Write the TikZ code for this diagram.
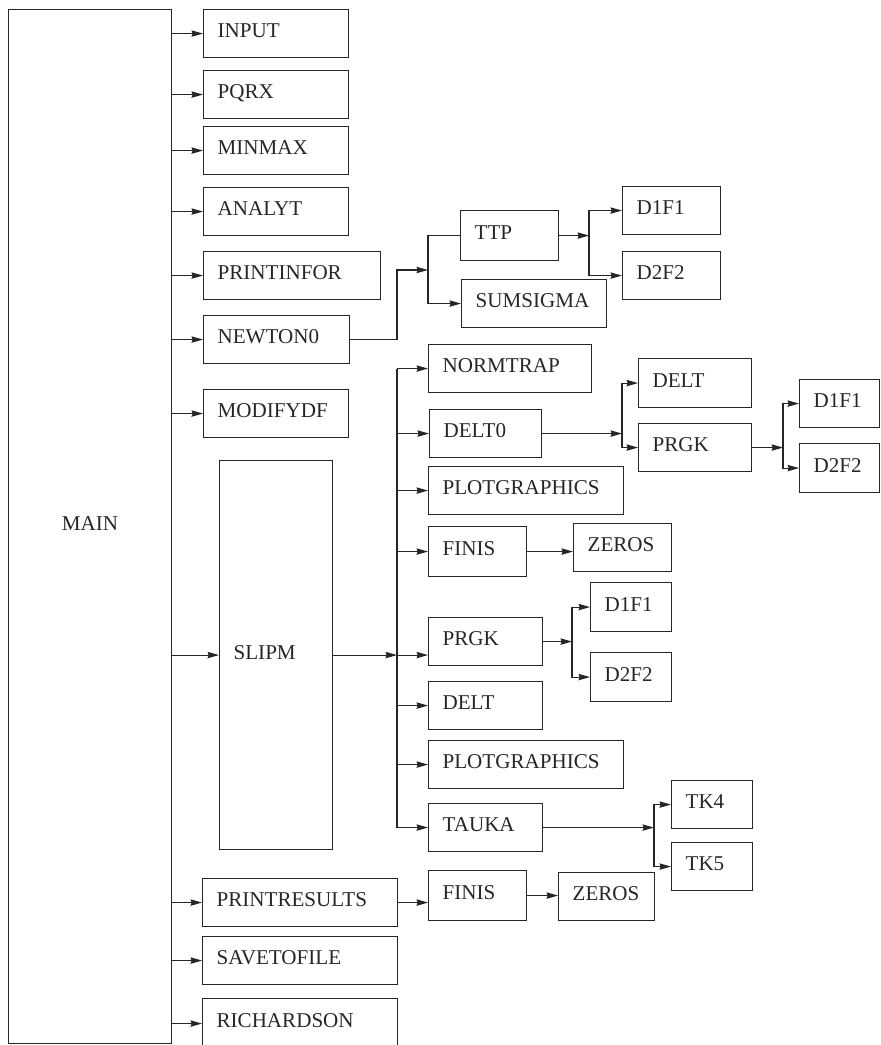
\documentclass[tikz,border=0pt]{standalone}
\usepackage{fontspec}
\setmainfont{Liberation Serif}
\usetikzlibrary{arrows.meta}
\def\px{0.02cm}
\tikzset{
  box/.style={draw, anchor=north west, align=left, inner xsep=8pt, inner ysep=0pt,
    text width=#1*\px-16pt, minimum height=48*\px, text height=8pt, text depth=3.4pt},
  arr/.style={-{Stealth[length=6.5pt,width=3.6pt,inset=0.6pt]}}
}

\begin{document}
\begin{tikzpicture}[x=\px, y=-\px, line width=0.65pt, color=black!85, font=\fontsize{12}{14}\selectfont]
\useasboundingbox (0,0) rectangle (880,1045);
\node[draw, anchor=north west, minimum width=163*\px, minimum height=1034*\px, text height=8pt, text depth=3pt] (main) at (8,9) {MAIN};
\node[box=145] (input) at (203,9) {INPUT};
\node[box=145] (pqrx) at (203,70) {PQRX};
\node[box=145] (minmax) at (203,126) {MINMAX};
\node[box=145] (analyt) at (203,187) {ANALYT};
\node[box=177] (printinfor) at (203,251) {PRINTINFOR};
\node[box=146] (newton) at (203,315) {NEWTON0};
\node[box=145] (modifydf) at (203,389) {MODIFYDF};
\node[box=113, minimum height=389*\px] (slipm) at (219,460) {SLIPM};
\node[box=195] (printres) at (202,878) {PRINTRESULTS};
\node[box=195] (savefile) at (202,936) {SAVETOFILE};
\node[box=195, minimum height=50*\px] (richard) at (202,998) {RICHARDSON};
\node[box=98, minimum height=50*\px] (ttp) at (460,210) {TTP};
\node[box=145] (sumsigma) at (461,279) {SUMSIGMA};
\node[box=98] (d1f1a) at (622,186) {D1F1};
\node[box=98] (d2f2a) at (622,251) {D2F2};
\node[box=163] (normtrap) at (428,344) {NORMTRAP};
\node[box=112] (delt0) at (429,409) {DELT0};
\node[box=195] (plotga) at (428,466) {PLOTGRAPHICS};
\node[box=98, minimum height=50*\px] (finisa) at (428,526) {FINIS};
\node[box=114] (prgka) at (428,617) {PRGK};
\node[box=114] (delta) at (428,681) {DELT};
\node[box=195] (plotgb) at (428,740) {PLOTGRAPHICS};
\node[box=114] (tauka) at (428,803) {TAUKA};
\node[box=98] (zerosa) at (573,523) {ZEROS};
\node[box=81, minimum height=49*\px] (d1f1b) at (590,582) {D1F1};
\node[box=81, minimum height=49*\px] (d2f2b) at (590,652) {D2F2};
\node[box=113, minimum height=49*\px] (deltb) at (638,358) {DELT};
\node[box=113] (prgkb) at (638,423) {PRGK};
\node[box=80] (d1f1c) at (799,379) {D1F1};
\node[box=80, minimum height=49*\px] (d2f2c) at (799,443) {D2F2};
\node[box=81] (tkfour) at (671,780) {TK4};
\node[box=81] (tkfive) at (671,842) {TK5};
\node[box=98, minimum height=50*\px] (finisb) at (428,870) {FINIS};
\node[box=96] (zerosb) at (558,872) {ZEROS};
\coordinate (ja) at (397,270);
\coordinate (jb) at (428,270);
\coordinate (jc) at (589,0);
\coordinate (bus) at (397,0);
\coordinate (jd) at (622,0);
\coordinate (je) at (783,0);
\coordinate (jf) at (572,0);
\coordinate (jg) at (654,0);
\foreach \b in {input,pqrx,minmax,analyt,printinfor,newton,modifydf,slipm,printres,savefile,richard}
  \draw[arr] (main.east |- \b.west) -- (\b.west);
\draw[arr] (newton.east) -| (ja) -- (jb);
\draw[arr] (ttp.west) -| (jb) |- (sumsigma.west);
\draw[arr] (ttp.east) -- (ttp.east -| jc);
\foreach \c in {d1f1a,d2f2a}
  \draw[arr] (ttp.east -| jc) |- (\c.west);
\draw[arr] (slipm.east) -- (slipm.east -| bus);
\draw (bus |- normtrap.west) -- (bus |- tauka.west);
\foreach \b in {normtrap,delt0,plotga,finisa,delta,plotgb,tauka}
  \draw[arr] (bus |- \b.west) -- (\b.west);
\draw[arr] (slipm.east -| bus) -- (prgka.west |- slipm.east);
\draw[arr] (delt0.east) -- (delt0.east -| jd);
\foreach \c in {deltb,prgkb}
  \draw[arr] (delt0.east -| jd) |- (\c.west);
\draw[arr] (prgkb.east) -- (prgkb.east -| je);
\foreach \c in {d1f1c,d2f2c}
  \draw[arr] (prgkb.east -| je) |- (\c.west);
\draw[arr] (finisa.east) -- (finisa.east -| zerosa.west);
\draw[arr] (prgka.east) -- (prgka.east -| jf);
\foreach \c in {d1f1b,d2f2b}
  \draw[arr] (prgka.east -| jf) |- (\c.west);
\draw[arr] (tauka.east) -- (tauka.east -| jg);
\foreach \c in {tkfour,tkfive}
  \draw[arr] (tauka.east -| jg) |- (\c.west);
\draw[arr] (printres.east) -- (printres.east -| finisb.west);
\draw[arr] (finisb.east) -- (finisb.east -| zerosb.west);
\end{tikzpicture}
\end{document}
